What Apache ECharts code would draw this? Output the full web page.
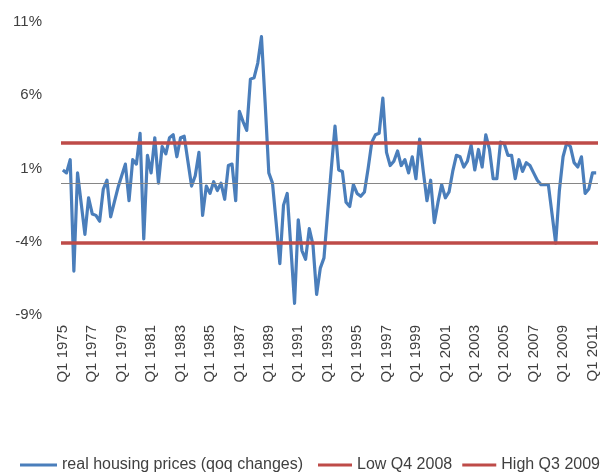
<!DOCTYPE html>
<html>
<head>
<meta charset="utf-8">
<script src="https://cdn.jsdelivr.net/npm/echarts@6/dist/echarts.min.js"></script>
<style>
  html, body { margin: 0; padding: 0; background: #fff; }
  #chart { width: 603px; height: 473px; }
</style>
</head>
<body>
<div id="chart"></div>
<script>
// quarterly real house price changes, % qoq, from Q1 1975
var startYear = 1975;
var housingChanges = [
  0.9, 0.7, 1.6, -6.0, 0.7, -1.4, -3.5, -1.0, -2.1, -2.2,
  -2.6, -0.4, 0.2, -2.3, -1.3, -0.3, 0.5, 1.3, -1.2, 1.6,
  1.3, 3.4, -3.8, 1.9, 0.7, 3.1, 0.0, 2.5, 2.0, 3.1,
  3.3, 1.8, 3.1, 3.2, 1.5, -0.2, 0.5, 2.1, -2.2, -0.2,
  -0.7, 0.1, -0.5, 0.0, -1.1, 1.2, 1.3, -1.2, 4.9, 4.2,
  3.6, 7.1, 7.2, 8.2, 10.0, 5.5, 0.7, 0.0, -2.7, -5.5,
  -1.5, -0.7, -4.4, -8.2, -2.5, -4.6, -5.2, -3.1, -4.2, -7.6,
  -5.8, -5.1, -2.0, 1.0, 3.9, 0.9, 0.8, -1.3, -1.6, -0.1,
  -0.7, -0.9, -0.6, 1.0, 2.8, 3.3, 3.4, 5.8, 2.1, 1.2,
  1.5, 2.2, 1.2, 1.6, 0.7, 1.8, 0.3, 3.0, 0.8, -1.2,
  0.2, -2.7, -1.3, -0.1, -1.0, -0.6, 0.8, 1.9, 1.8, 1.1,
  1.5, 2.6, 0.9, 2.3, 1.1, 3.3, 2.3, 0.3, 0.3, 2.8,
  2.7, 1.9, 1.9, 0.3, 1.6, 0.8, 1.4, 1.2, 0.7, 0.2,
  -0.1, -0.1, -0.1, -2.1, -4.1, -0.5, 1.8, 2.75, 2.5, 1.4,
  1.1, 1.8, -0.7, -0.4, 0.7, 0.7
];
var lowQ4_2008 = -4.1;
var highQ3_2009 = 2.75;

var yMin = -9, yMax = 11, yStep = 5;

var quarters = [];
for (var i = 0; i < housingChanges.length; i++) {
  quarters.push('Q' + (i % 4 + 1) + ' ' + (startYear + Math.floor(i / 4)));
}

var textColor = '#404040';
var fontFam = '"Liberation Sans", Arial, sans-serif';
var blue = '#4a7ebb';
var red = '#be4b48';

var seriesNames = ['real housing prices (qoq changes)', 'Low Q4 2008', 'High Q3 2009'];

function flatLine(value, color, width) {
  return {
    silent: true,
    symbol: ['none', 'none'],
    label: { show: false },
    lineStyle: { color: color, width: width, type: 'solid' },
    emphasis: { disabled: true },
    data: [{ yAxis: value }]
  };
}

// one legend box per entry so each sits where the original has it
function legendItem(name, pos, width) {
  var lg = {
    data: [name],
    top: 457,
    padding: 0,
    icon: 'rect',
    itemWidth: width,
    itemHeight: 3,
    textStyle: { fontSize: 16, color: textColor, fontFamily: fontFam }
  };
  for (var k in pos) lg[k] = pos[k];
  return lg;
}

var chart = echarts.init(document.getElementById('chart'));
chart.setOption({
  animation: false,
  backgroundColor: '#fff',
  grid: { left: 61, right: 5, top: 22, bottom: 158, containLabel: false },
  legend: [
    legendItem(seriesNames[0], { left: 20 }, 37),
    legendItem(seriesNames[1], { left: 318 }, 34),
    legendItem(seriesNames[2], { right: 3 }, 34)
  ],
  xAxis: {
    type: 'category',
    data: quarters,
    boundaryGap: true,
    axisLine: { show: false },
    axisTick: { show: false },
    splitLine: { show: false },
    axisLabel: {
      interval: 7,
      rotate: 90,
      margin: 10,
      fontSize: 15,
      color: textColor,
      fontFamily: fontFam
    }
  },
  yAxis: {
    type: 'value',
    min: yMin,
    max: yMax,
    interval: yStep,
    axisLine: { show: false },
    axisTick: { show: false },
    splitLine: { show: false },
    axisLabel: {
      margin: 19,
      fontSize: 15,
      color: textColor,
      fontFamily: fontFam,
      formatter: function (v) { return v + '%'; }
    }
  },
  series: [
    {
      // zero axis line, drawn under the data
      name: 'axis',
      type: 'line',
      data: [],
      z: 1,
      markLine: flatLine(0, '#868686', 1)
    },
    {
      name: seriesNames[0],
      type: 'line',
      data: housingChanges,
      z: 3,
      symbol: 'none',
      showSymbol: false,
      color: blue,
      lineStyle: { color: blue, width: 3.2, join: 'round' }
    },
    {
      name: seriesNames[1],
      type: 'line',
      data: [],
      z: 4,
      symbol: 'none',
      color: red,
      lineStyle: { color: red, width: 3.5 },
      markLine: flatLine(lowQ4_2008, red, 3.5)
    },
    {
      name: seriesNames[2],
      type: 'line',
      data: [],
      z: 4,
      symbol: 'none',
      color: red,
      lineStyle: { color: red, width: 3.5 },
      markLine: flatLine(highQ3_2009, red, 3.5)
    }
  ]
});
</script>
</body>
</html>
